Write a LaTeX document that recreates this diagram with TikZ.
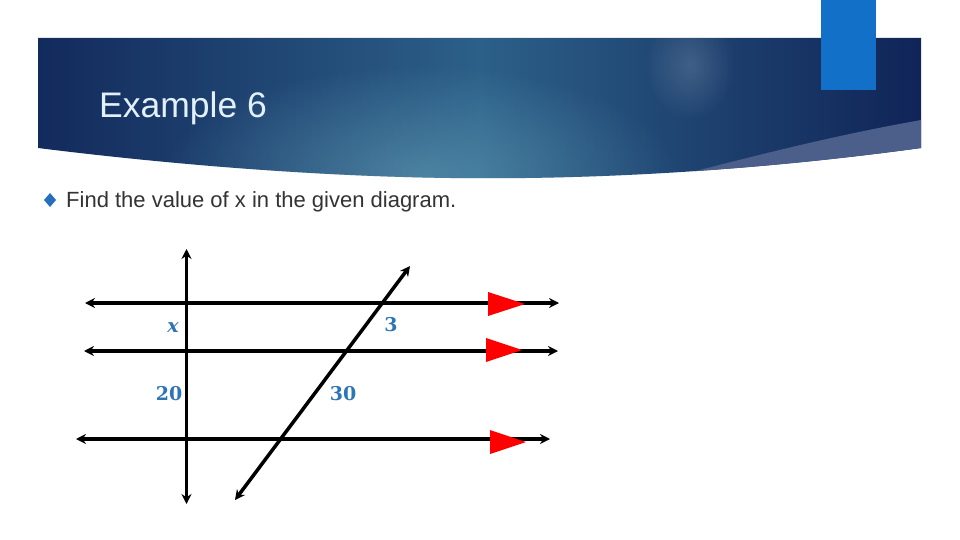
\documentclass[tikz,border=0pt]{standalone}
\usepackage{fontspec}
\setmainfont{Liberation Sans}
\newfontfamily\lblfont{DejaVu Serif}
\usetikzlibrary{arrows.meta,fadings}
\tikzfading[name=softglow,inner color=transparent!0,outer color=transparent!100]
\definecolor{navy}{RGB}{16,36,88}
\definecolor{midblue}{RGB}{44,96,136}
\definecolor{wedge}{RGB}{76,94,138}
\definecolor{tabblue}{RGB}{18,112,200}
\definecolor{titlec}{RGB}{226,240,248}
\definecolor{lblblue}{RGB}{46,117,182}
\definecolor{bulletc}{RGB}{40,110,190}
\tikzset{
  geo/.style={line width=3.5pt,black,{Stealth[length=10pt,width=10pt]}-{Stealth[length=10pt,width=10pt]}},
  parmark/.style={fill=red,draw=none},
  lbl/.style={text=lblblue,font=\lblfont\bfseries\fontsize{19}{21}\selectfont,inner sep=0pt}
}
\begin{document}
\begin{tikzpicture}[x=1pt,y=-1pt]
\useasboundingbox (0,0) rectangle (960,540);
\fill[white] (0,0) rectangle (960,540);
% banner
\begin{scope}
\path[clip] (38,38) -- (921,38) -- (921,148) .. controls (760,170) and (600,180) .. (450,178)
  .. controls (300,176) and (150,162) .. (38,148) -- cycle;
\shade[left color=navy!90!midblue,right color=navy,middle color=midblue] (38,38) rectangle (921,180);
\fill[midblue!60!cyan!50!white,path fading=softglow,fill opacity=0.35]
  (420,175) ellipse (260 and 110);
\fill[white,path fading=softglow,fill opacity=0.15]
  (690,65) ellipse (45 and 55);
\fill[wedge] (921,120) .. controls (820,138) and (740,160) .. (660,180) -- (921,180) -- cycle;
\end{scope}
\fill[tabblue] (821,0) rectangle (876,90);
\node[anchor=base west,text=titlec,font=\fontsize{35.5}{40}\selectfont,inner sep=0pt] (title) at (99,118) {Example 6};
% bullet
\fill[bulletc] (50,193) -- (56,200) -- (50,207) -- (44,200) -- cycle;
\node[anchor=base west,text=black!80,font=\fontsize{22}{26}\selectfont,inner sep=0pt] (task) at (66,207.5) {Find the value of x in the given diagram.};
% diagram
\coordinate (vT) at (186.5,249);
\coordinate (vB) at (186.5,504);
\coordinate (h1L) at (85,303);
\coordinate (h1R) at (559,303);
\coordinate (h2L) at (84,351);
\coordinate (h2R) at (558,351);
\coordinate (h3L) at (76,439);
\coordinate (h3R) at (550,439);
\coordinate (dT) at (410,266);
\coordinate (dB) at (235,500);
\draw[geo] (h1L) -- (h1R);
\draw[geo] (h2L) -- (h2R);
\draw[geo] (h3L) -- (h3R);
\draw[geo] (vT) -- (vB);
\draw[geo] (dB) -- (dT);
\fill[parmark] (488,292) -- (525,304) -- (488,316) -- cycle;
\fill[parmark] (486,338) -- (522,350) -- (486,362) -- cycle;
\fill[parmark] (490,430) -- (526,442) -- (490,454) -- cycle;
\node[lbl,font=\lblfont\bfseries\itshape\fontsize{19}{21}\selectfont] (lx) at (173,328) {x};
\node[lbl] (l3) at (391,325) {3};
\node[lbl] (l20) at (169,394) {20};
\node[lbl] (l30) at (343,394) {30};
\end{tikzpicture}
\end{document}
